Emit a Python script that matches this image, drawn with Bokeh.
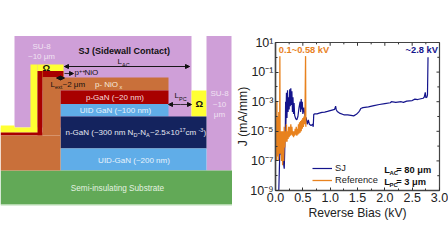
from bokeh.plotting import figure
from bokeh.layouts import row
from bokeh.models import (FixedTicker, Legend, LegendItem, Arrow, NormalHead, Range1d)
from bokeh.core.properties import value
from bokeh.embed import file_html
from bokeh.resources import INLINE

FONT = "Liberation Sans"

# --- device cross-section (diagram units) ---
layer_left = [14, 191, 206, 0, 30, 0, 37, 0, 42, 42, 60, 60, 60, 60, 60, 0, 37, 0]
layer_right = [191, 206, 231, 14, 37, 37, 63, 42, 63, 168, 168, 168, 206, 206, 60, 232, 42, 232]
layer_top = [35.5, 90, 35.5, 125, 64, 127, 64, 132, 70.5, 77, 90, 103.5, 116, 148, 135, 170, 70.5, 204]
layer_bottom = [127, 116, 170, 132, 132, 132, 77, 135, 77, 90, 103.5, 116, 148, 170, 170, 204, 135, 205]
layer_color = ["#cf9fd8", "#ffff33", "#cf9fd8", "#ffff33", "#ffff33", "#ffff33", "#ffff33",
               "#a80000", "#a80000", "#c9703a", "#a80000", "#60ade8", "#14235e", "#60ade8", "#c9703a", "#62a957",
               "#a80000", "#b5dcb0"]

extra_left = [42, 0]
extra_right = [60, 60]
extra_top = [77, 135]
extra_bottom = [135, 170]

diagram_text = ["SU-8", "~10 μm", "SU-8", "~10", "μm", "p- NiO", "x", "p-GaN (~20 nm)", "UID GaN (~100 nm)",
                "UID-GaN (~200 nm)", "Semi-insulating Substrate", "n-GaN (~300 nm N", "D", "-N", "A", "~2.5×10", "17", " cm", "-3", ")"]
diagram_tx = [41, 41, 219, 219, 219, 106, 119, 114.5, 115, 133.5, 117, 65, 133, 137, 145.5, 149.5, 179, 185, 198, 203]
diagram_ty = [46, 55.5, 93, 103.5, 114, 84, 86, 97, 110, 160, 188, 132, 134, 132, 134, 132, 129.5, 132, 129.5, 132]
diagram_size = [8, 8, 8, 8, 8, 8, 5.5, 8, 8, 8, 8.2, 8, 5.5, 8, 5.5, 8, 5.5, 8, 5.5, 8]
diagram_align = ["center"] * 5 + ["center", "left", "center", "center", "center", "center"] + ["left"] * 9
diagram_color = ["#efe2f2"] * 5 + ["#f7ead9"] * 2 + ["#f5dcdc"] + ["#e8f3fc"] * 2 + ["#e4f2e0"] + ["#e6e8f2"] * 9

dark_text = ["SJ (Sidewall Contact)", "L", "AC", "Ω", "Ω", "p", "++", " NiO", "L", "ext", "~2 μm", "L", "PC"]
dark_tx = [78, 117, 121.5, 42, 195, 74, 78.5, 84, 50, 54.5, 62, 174, 178.5]
dark_ty = [50, 61, 64, 67, 103, 72, 70, 72, 84, 86, 84, 95, 98]
dark_size = [9, 8, 5.5, 9.5, 9.5, 8, 5.5, 8, 8, 5.5, 8, 8, 5.5]
dark_style = ["bold", "normal", "normal", "bold", "bold"] + ["normal"] * 8

arrow_x0 = [189, 64, 64, 60, 60, 180, 180]
arrow_x1 = [64, 189, 73, 56, 64, 168, 191]
arrow_y = [66, 66, 73, 77.5, 77.5, 104, 104]

# --- J-V curves ---
sj_kv = [0.05, 0.06, 0.08, 0.10, 0.12, 0.14, 0.16, 0.18, 0.185, 0.19, 0.20, 0.21, 0.22, 0.23, 0.24, 0.25, 0.26, 0.27, 0.28, 0.29,
         0.30, 0.31, 0.32, 0.33, 0.34, 0.35, 0.37, 0.39, 0.41, 0.43, 0.45, 0.46, 0.47, 0.48, 0.49, 0.50, 0.52, 0.54, 0.56, 0.58,
         0.60, 0.62, 0.65, 0.68, 0.69, 0.70, 0.72, 0.76, 0.80, 0.85, 0.90, 0.95, 1.00, 1.05, 1.08, 1.10, 1.11, 1.13, 1.17, 1.25,
         1.32, 1.38, 1.43, 1.48, 1.52, 1.54, 1.56, 1.60, 1.70, 1.80, 1.90, 2.00, 2.10, 2.12, 2.20, 2.30, 2.34, 2.40, 2.50, 2.55,
         2.60, 2.70, 2.72, 2.74, 2.75, 2.77, 2.78, 2.79]
sj_j = [1e-9, 1e-9, 5e-7, 3e-7, 2e-7, 1e-7, 3e-8, 2e-5, 1e-3, 3e-5, 4e-3, 8e-5, 6e-3, 2e-4, 2e-3, 3e-4, 7e-3, 5e-4, 8e-3, 6e-4,
        5e-3, 2e-4, 2e-3, 1.5e-4, 8e-4, 1.2e-4, 7e-5, 6e-5, 1e-4, 4e-4, 1e-3, 2e-4, 1.5e-3, 3e-4, 1e-3, 1.5e-4, 4e-4, 1e-4, 8e-5, 3e-5,
        6e-5, 3e-5, 2.5e-5, 3e-5, 2e-5, 1.4e-4, 1.5e-4, 1.5e-4, 1.7e-4, 1.9e-4, 2e-4, 2.2e-4, 2.5e-4, 2.8e-4, 3e-4, 5e-4, 3e-4, 2.2e-4, 1.7e-4, 1.3e-4,
        1.3e-4, 1.2e-4, 1.1e-4, 1.4e-4, 2e-4, 2.5e-4, 3.5e-4, 4e-4, 4.5e-4, 5.5e-4, 6.5e-4, 7.5e-4, 8.5e-4, 1e-3, 9e-4, 1e-3, 9e-4, 1.1e-3, 1.2e-3, 1.5e-3,
        1.4e-3, 1.7e-3, 2e-3, 4.3e-3, 1.9e-3, 2e-3, 3e-3, 1.0]

ref_kv = [0.00, 0.01, 0.015, 0.025, 0.03, 0.04, 0.05, 0.06, 0.07, 0.075, 0.08, 0.085, 0.09, 0.10, 0.11, 0.12, 0.13, 0.14, 0.15, 0.16,
          0.17, 0.18, 0.19, 0.20, 0.21, 0.22, 0.23, 0.24, 0.25, 0.26, 0.27, 0.28, 0.29, 0.30, 0.31, 0.32, 0.33, 0.34, 0.35, 0.36,
          0.37, 0.38, 0.39, 0.40, 0.41, 0.42, 0.43, 0.44, 0.45, 0.46, 0.47, 0.48, 0.49, 0.50, 0.51, 0.52, 0.53, 0.54, 0.55, 0.555]
ref_j = [3e-7, 5e-5, 1e-7, 1e-3, 2e-7, 1e-4, 1e-7, 2e-4, 3e-7, 5e-6, 1.2, 1e-6, 3e-7, 1e-5, 1e-7, 1e-5, 5e-8, 1e-5, 1e-7, 2e-5,
         8e-7, 1e-5, 2e-6, 3e-5, 2e-6, 1e-5, 3e-6, 2e-5, 4e-6, 2e-5, 5e-6, 3e-5, 6e-6, 2e-5, 5e-6, 1e-5, 4e-6, 1e-5, 5e-6, 1.5e-5,
         6e-6, 2e-5, 5e-6, 1.5e-5, 6e-6, 3e-5, 7e-6, 4e-5, 8e-6, 5e-5, 1e-5, 6e-5, 1.5e-5, 8e-5, 2e-5, 1e-4, 3e-5, 1.5e-4, 1.2, 2e-5]

y_tick_values = [1e-9, 1e-7, 1e-5, 1e-3, 1e-1, 1e1]
y_tick_labels = ["10⁻⁹", "10⁻⁷", "10⁻⁵", "10⁻³", "10⁻¹", "10¹"]
y_minor_values = [1e-8, 1e-6, 1e-4, 1e-2, 1e0]
x_tick_values = [0, 0.5, 1, 1.5, 2, 2.5, 3]
x_tick_labels = ["0.0", "0.5", "1.0", "1.5", "2.0", "2.5", "3.0"]
x_minor_values = [0.25, 0.75, 1.25, 1.75, 2.25, 2.75]

note_text = ["0.1~0.58 kV", "~2.8 kV", "L", "AC", " = 80 μm", "L", "PC", " = 3 μm"]
note_x = [0.06, 2.38, 1.99, 2.085, 2.21, 1.99, 2.085, 2.21]
note_y = [3.35, 3.35, 2.4e-8, 1.6e-8, 2.4e-8, 3.6e-9, 2.5e-9, 3.6e-9]
note_size = [9.3, 9.3, 9.3, 6, 9.3, 9.3, 6, 9.3]
note_color = ["#e8821e", "#14148c"] + ["#111111"] * 6

# --- left panel ---
d = figure(width=232, height=252, x_range=Range1d(0, 232), y_range=Range1d(252, 0), toolbar_location=None,
           output_backend="svg", min_border=0, outline_line_color=None, x_axis_type=None, y_axis_type=None,
           frame_align=False)
d.grid.visible = False
d.quad(left=layer_left, right=layer_right, top=layer_top, bottom=layer_bottom, color=layer_color, line_color=None)
d.quad(left=extra_left, right=extra_right, top=extra_top, bottom=extra_bottom, color="#c9703a", line_color=None)

d.text(x=diagram_tx, y=diagram_ty,
       text=diagram_text, text_font=value(FONT), text_font_size=[f"{s}px" for s in diagram_size],
       text_align=diagram_align, text_baseline="middle", text_color=diagram_color)
d.text(x=dark_tx, y=dark_ty, text=dark_text, text_font=value(FONT),
       text_font_size=[f"{s}px" for s in dark_size], text_font_style=dark_style,
       text_align="left", text_baseline="middle", text_color="#111111")
for x0, x1, y in zip(arrow_x0, arrow_x1, arrow_y):
    d.add_layout(Arrow(end=NormalHead(size=4, fill_color="#111111", line_color="#111111"),
                       x_start=x0, x_end=x1, y_start=y, y_end=y, line_color="#111111", line_width=0.8))

# --- right panel ---
p = figure(width=216, height=252, x_range=Range1d(0, 3), y_range=Range1d(1e-9, 1e1), y_axis_type="log",
           toolbar_location=None, output_backend="svg", min_border_left=43, min_border_right=9,
           min_border_top=42, min_border_bottom=62, outline_line_color="#444444", outline_line_width=1.2,
           frame_align=False)
p.grid.visible = False

ref_line = p.line(ref_kv, ref_j, line_color="#e8821e", line_width=1.3)
sj_line = p.line(sj_kv, sj_j, line_color="#14148c", line_width=1.2)
p.renderers = [sj_line, ref_line]

xt = FixedTicker(ticks=x_tick_values, minor_ticks=x_minor_values)
yt = FixedTicker(ticks=y_tick_values, minor_ticks=y_minor_values)

xa = p.xaxis[0]
xa.ticker = xt
xa.major_label_overrides = dict(zip(x_tick_values, x_tick_labels))
xa.axis_label = "Reverse Bias (kV)"
ya = p.yaxis[0]
ya.ticker = yt
ya.major_label_overrides = dict(zip(y_tick_values, y_tick_labels))
ya.axis_label = "J (mA/mm)"
for a in (xa, ya):
    a.major_tick_in = 3
    a.major_tick_out = 0
    a.minor_tick_in = 2
    a.minor_tick_out = 0
    a.axis_line_color = "#444444"
    a.axis_line_width = 1.5
    a.major_tick_line_color = "#333333"
    a.minor_tick_line_color = "#333333"
    a.major_label_text_font = FONT
    a.major_label_text_font_size = "12.5px"
    a.major_label_text_color = "#222222"
    a.axis_label_text_font = FONT
    a.axis_label_text_font_size = "12.2px"
    a.axis_label_text_font_style = "normal"
    a.axis_label_text_color = "#222222"
    a.major_label_standoff = 2
xa.axis_label_standoff = 1
ya.axis_label_standoff = -3

# mirrored ticks on the top and right edges
top_ticks = x_tick_values + x_minor_values
p.segment(x0=top_ticks, x1=top_ticks, y0=[1e1] * len(top_ticks),
          y1=[6e0] * len(x_tick_values) + [7.5e0] * len(x_minor_values), line_color="#333333", line_width=1)
right_ticks = y_tick_values + y_minor_values
p.segment(x0=[3.0] * len(right_ticks), x1=[2.945] * len(y_tick_values) + [2.96] * len(y_minor_values),
          y0=right_ticks, y1=right_ticks, line_color="#333333", line_width=1)

leg = Legend(items=[LegendItem(label="SJ", renderers=[sj_line]), LegendItem(label="Reference", renderers=[ref_line])],
             location=(37, 4), background_fill_alpha=0, border_line_color=None, glyph_width=20, glyph_height=12,
             label_standoff=3, spacing=0, padding=0, margin=0, label_height=12,
             label_text_font=FONT, label_text_font_size="9.3px", label_text_color="#222222")
p.add_layout(leg, "center")

p.text(x=note_x, y=note_y, text=note_text, text_font=value(FONT),
       text_font_size=[f"{s}px" for s in note_size], text_font_style="bold",
       text_color=note_color, text_align="left", text_baseline="middle")

page = row(d, p, spacing=0)
open("out.html", "w").write(file_html(page, INLINE))
